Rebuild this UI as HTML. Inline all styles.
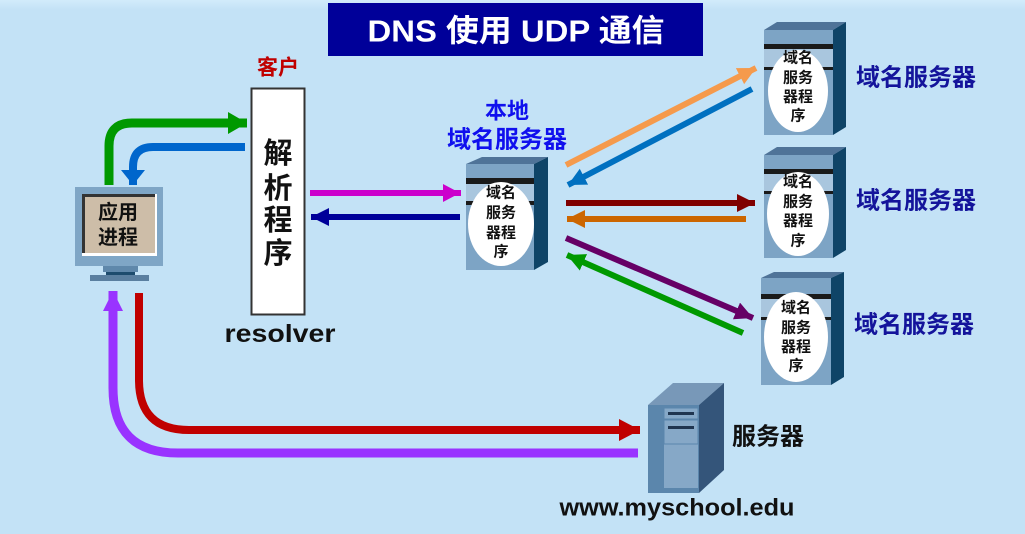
<!DOCTYPE html>
<html>
<head>
<meta charset="utf-8">
<style>
html,body{margin:0;padding:0;}
body{width:1025px;height:534px;overflow:hidden;background:#C3E2F6;}
svg{display:block;}
.cjk{font-family:"Liberation Sans","Noto Sans CJK SC",sans-serif;font-weight:bold;}
</style>
</head>
<body>
<svg width="1025" height="534" viewBox="0 0 1025 534" xmlns="http://www.w3.org/2000/svg">
<defs>
  <linearGradient id="topg" x1="0" y1="0" x2="0" y2="1">
    <stop offset="0" stop-color="#D2ECFB"/>
    <stop offset="1" stop-color="#C3E2F6"/>
  </linearGradient>
  <marker id="mOrange" markerUnits="userSpaceOnUse" markerWidth="20" markerHeight="20" refX="18" refY="9" orient="auto"><path d="M0,0 L18,9 L0,18 z" fill="#F59A4C"/></marker>
  <marker id="mBlue" markerUnits="userSpaceOnUse" markerWidth="20" markerHeight="20" refX="18" refY="9" orient="auto"><path d="M0,0 L18,9 L0,18 z" fill="#0070C0"/></marker>
  <marker id="mDRed" markerUnits="userSpaceOnUse" markerWidth="20" markerHeight="20" refX="18" refY="9" orient="auto"><path d="M0,0 L18,9 L0,18 z" fill="#800000"/></marker>
  <marker id="mBrown" markerUnits="userSpaceOnUse" markerWidth="20" markerHeight="20" refX="18" refY="9" orient="auto"><path d="M0,0 L18,9 L0,18 z" fill="#CC6600"/></marker>
  <marker id="mPurp" markerUnits="userSpaceOnUse" markerWidth="20" markerHeight="20" refX="18" refY="9" orient="auto"><path d="M0,0 L18,9 L0,18 z" fill="#660066"/></marker>
  <marker id="mGreen" markerUnits="userSpaceOnUse" markerWidth="20" markerHeight="20" refX="18" refY="9" orient="auto"><path d="M0,0 L18,9 L0,18 z" fill="#009900"/></marker>
  <marker id="mMag" markerUnits="userSpaceOnUse" markerWidth="20" markerHeight="20" refX="18" refY="9" orient="auto"><path d="M0,0 L17,9 L0,18 z" fill="#CC00CC"/></marker>
  <marker id="mNavy" markerUnits="userSpaceOnUse" markerWidth="20" markerHeight="20" refX="18" refY="9" orient="auto"><path d="M0,0 L18,9 L0,18 z" fill="#000099"/></marker>
  <marker id="mGreen2" markerUnits="userSpaceOnUse" markerWidth="22" markerHeight="24" refX="19" refY="11" orient="auto"><path d="M0,0 L19,11 L0,22 z" fill="#009900"/></marker>
  <marker id="mBlue2" markerUnits="userSpaceOnUse" markerWidth="22" markerHeight="26" refX="15" refY="12" orient="auto"><path d="M0,0 L15,12 L0,24 z" fill="#0066CC"/></marker>
  <marker id="mRed" markerUnits="userSpaceOnUse" markerWidth="24" markerHeight="24" refX="21" refY="11" orient="auto"><path d="M0,0 L21,11 L0,22 z" fill="#C00000"/></marker>
  <marker id="mViol" markerUnits="userSpaceOnUse" markerWidth="24" markerHeight="24" refX="20" refY="10" orient="auto"><path d="M0,0 L20,10 L0,20 z" fill="#9933FF"/></marker>
</defs>

<rect x="0" y="0" width="1025" height="10" fill="url(#topg)"/>

<!-- Title -->
<rect x="328" y="3" width="375" height="53" fill="#000099"/>
<text x="516" y="31" text-anchor="middle" dominant-baseline="central" class="cjk" font-size="31" fill="#FFFFFF" textLength="297" lengthAdjust="spacingAndGlyphs">DNS 使用 UDP 通信</text>

<!-- client label -->
<text x="278" y="68" text-anchor="middle" dominant-baseline="central" class="cjk" font-size="21" fill="#C00000">客户</text>

<!-- resolver box -->
<rect x="251.5" y="88.5" width="53" height="226" fill="#FFFFFF" stroke="#333333" stroke-width="2"/>
<g class="cjk" font-size="29" fill="#111111" text-anchor="middle" dominant-baseline="central">
  <text x="278" y="154">解</text>
  <text x="278" y="189">析</text>
  <text x="278" y="221">程</text>
  <text x="278" y="254">序</text>
</g>
<text x="280" y="334" text-anchor="middle" dominant-baseline="central" font-family="Liberation Sans, sans-serif" font-weight="bold" font-size="25" fill="#111111" textLength="111" lengthAdjust="spacingAndGlyphs">resolver</text>

<!-- monitor -->
<rect x="75" y="187" width="88" height="79" fill="#7FA6C6"/>
<rect x="82" y="194" width="75" height="62" fill="#FFFFFF"/>
<rect x="82" y="194" width="73" height="59" fill="#333333"/>
<rect x="85" y="197" width="70" height="56" fill="#CDBDA8"/>
<g class="cjk" font-size="20" fill="#111111" text-anchor="middle" dominant-baseline="central">
  <text x="118" y="213">应用</text>
  <text x="118" y="238">进程</text>
</g>
<rect x="103" y="266" width="35" height="6" fill="#5F88AB"/>
<rect x="106" y="272" width="29" height="3" fill="#1D4C6E"/>
<rect x="90" y="275" width="59" height="6" fill="#5A7FA0"/>

<!-- curved arrows client -->
<path d="M109,185 V146 Q109,123 132,123 H247" fill="none" stroke="#009900" stroke-width="9" marker-end="url(#mGreen2)"/>
<path d="M245,147 H153 Q133,147 133,167 V185" fill="none" stroke="#0066CC" stroke-width="8" marker-end="url(#mBlue2)"/>

<!-- resolver <-> local -->
<line x1="310" y1="193" x2="461" y2="193" stroke="#CC00CC" stroke-width="6" marker-end="url(#mMag)"/>
<line x1="460" y1="217" x2="311" y2="217" stroke="#000099" stroke-width="6" marker-end="url(#mNavy)"/>

<!-- local DNS server -->
<text x="507" y="111" text-anchor="middle" dominant-baseline="central" class="cjk" font-size="22" fill="#1010EE">本地</text>
<text x="507" y="140" text-anchor="middle" dominant-baseline="central" class="cjk" font-size="24" fill="#1010EE">域名服务器</text>
<polygon points="466,164 482,157 548,157 534,164" fill="#4F7398"/>
<polygon points="534,164 548,157 548,262 534,270" fill="#0F4467"/>
<rect x="466" y="164" width="68" height="106" fill="#7DA4C5"/>
<rect x="466" y="184" width="68" height="17" fill="#A9C6DE"/>
<rect x="466" y="178" width="68" height="6" fill="#1A1A1A"/>
<rect x="466" y="201" width="68" height="4" fill="#1A1A1A"/>
<ellipse cx="501" cy="224" rx="33" ry="42" fill="#FFFFFF"/>
<g class="cjk" font-size="15" fill="#111111" text-anchor="middle" dominant-baseline="central">
  <text x="501" y="193">域名</text>
  <text x="501" y="213">服务</text>
  <text x="501" y="233">器程</text>
  <text x="501" y="252">序</text>
</g>

<!-- right servers -->
<g id="s1">
<polygon points="764,30 777,22 846,22 833,30" fill="#4F7398"/>
<polygon points="833,30 846,22 846,127 833,135" fill="#0F4467"/>
<rect x="764" y="30" width="69" height="105" fill="#7DA4C5"/>
<rect x="764" y="48" width="69" height="19" fill="#A9C6DE"/>
<rect x="764" y="44" width="69" height="5" fill="#1A1A1A"/>
<rect x="764" y="67" width="69" height="3" fill="#1A1A1A"/>
<ellipse cx="798" cy="91" rx="30" ry="41" fill="#FFFFFF"/>
<g class="cjk" font-size="15" fill="#111111" text-anchor="middle" dominant-baseline="central">
  <text x="798" y="58">域名</text>
  <text x="798" y="78">服务</text>
  <text x="798" y="97">器程</text>
  <text x="798" y="116">序</text>
</g>
</g>
<g>
<polygon points="764,155 777,147 846,147 833,155" fill="#4F7398"/>
<polygon points="833,155 846,147 846,250 833,258" fill="#0F4467"/>
<rect x="764" y="155" width="69" height="103" fill="#7DA4C5"/>
<rect x="764" y="173" width="69" height="19" fill="#A9C6DE"/>
<rect x="764" y="169" width="69" height="5" fill="#1A1A1A"/>
<rect x="764" y="191" width="69" height="3" fill="#1A1A1A"/>
<ellipse cx="798" cy="214" rx="31" ry="42" fill="#FFFFFF"/>
<g class="cjk" font-size="15" fill="#111111" text-anchor="middle" dominant-baseline="central">
  <text x="798" y="182">域名</text>
  <text x="798" y="202">服务</text>
  <text x="798" y="221">器程</text>
  <text x="798" y="241">序</text>
</g>
</g>
<g>
<polygon points="761,278 774,272 844,272 831,278" fill="#4F7398"/>
<polygon points="831,278 844,272 844,377 831,385" fill="#0F4467"/>
<rect x="761" y="278" width="70" height="107" fill="#7DA4C5"/>
<rect x="761" y="299" width="70" height="19" fill="#A9C6DE"/>
<rect x="761" y="294" width="70" height="5" fill="#1A1A1A"/>
<rect x="761" y="317" width="70" height="3" fill="#1A1A1A"/>
<ellipse cx="796" cy="337" rx="32" ry="45" fill="#FFFFFF"/>
<g class="cjk" font-size="15" fill="#111111" text-anchor="middle" dominant-baseline="central">
  <text x="796" y="308">域名</text>
  <text x="796" y="328">服务</text>
  <text x="796" y="347">器程</text>
  <text x="796" y="366">序</text>
</g>
</g>

<g class="cjk" font-size="24" fill="#14149B" text-anchor="middle" dominant-baseline="central">
  <text x="916" y="78">域名服务器</text>
  <text x="916" y="201">域名服务器</text>
  <text x="914" y="325">域名服务器</text>
</g>

<!-- local <-> remote arrows -->
<line x1="566" y1="165" x2="756" y2="68" stroke="#F59A4C" stroke-width="6" marker-end="url(#mOrange)"/>
<line x1="752" y1="89" x2="568" y2="185" stroke="#0070C0" stroke-width="6" marker-end="url(#mBlue)"/>
<line x1="566" y1="203" x2="755" y2="203" stroke="#800000" stroke-width="6" marker-end="url(#mDRed)"/>
<line x1="746" y1="219" x2="567" y2="219" stroke="#CC6600" stroke-width="6" marker-end="url(#mBrown)"/>
<line x1="566" y1="238" x2="753" y2="318" stroke="#660066" stroke-width="6" marker-end="url(#mPurp)"/>
<line x1="743" y1="333" x2="567" y2="255" stroke="#009900" stroke-width="6" marker-end="url(#mGreen)"/>

<!-- bottom curved arrows -->
<path d="M139,293 V380 Q139,430 189,430 H640" fill="none" stroke="#C00000" stroke-width="8" marker-end="url(#mRed)"/>
<path d="M638,453 H178 Q113,453 113,388 V291" fill="none" stroke="#9933FF" stroke-width="9" marker-end="url(#mViol)"/>

<!-- web server -->
<polygon points="648,405 673,383 724,383 699,405" fill="#7898B8"/>
<polygon points="699,405 724,383 724,470 699,493" fill="#34557A"/>
<rect x="648" y="405" width="51" height="88" fill="#5B86AC"/>
<rect x="664" y="408" width="34" height="80" fill="#86A8C7"/>
<rect x="664" y="408" width="34" height="11" fill="#86A8C7" stroke="#5B86AC" stroke-width="1"/>
<rect x="664" y="420" width="34" height="24" fill="#86A8C7" stroke="#5B86AC" stroke-width="1"/>
<rect x="668" y="412" width="26" height="3" fill="#1F3550"/>
<rect x="668" y="426" width="26" height="3" fill="#1F3550"/>
<text x="768" y="437" text-anchor="middle" dominant-baseline="central" class="cjk" font-size="24" fill="#111111">服务器</text>
<text x="677" y="508" text-anchor="middle" dominant-baseline="central" font-family="Liberation Sans, sans-serif" font-weight="bold" font-size="24" fill="#111111" textLength="235" lengthAdjust="spacingAndGlyphs">www.myschool.edu</text>
</svg>
</body>
</html>
